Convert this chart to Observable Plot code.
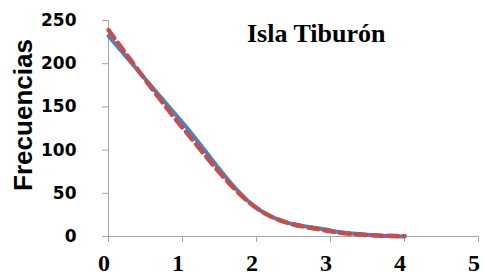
<!DOCTYPE html>
<html>
<head>
<meta charset="utf-8">
<script src="https://cdn.jsdelivr.net/npm/d3@7"></script>
<script src="https://cdn.jsdelivr.net/npm/@observablehq/plot@0.6"></script>
<style>
  html, body { margin: 0; padding: 0; background: #fff; }
  #chart { width: 485px; height: 278px; }
</style>
</head>
<body>
<div id="chart"></div>
<script>
const title = "Isla Tiburón";
const yLabel = "Frecuencias";
const xValues = [0, 1, 2, 3, 4];
const observed = [232, 132, 33, 7, 0];
const expected = [239, 126, 33, 6, 0.5];
const xTicks = [0, 1, 2, 3, 4, 5];
const yTicks = [0, 50, 100, 150, 200, 250];

const obsData = xValues.map((x, i) => ({x, y: observed[i]}));
const expData = xValues.map((x, i) => ({x, y: expected[i]}));

const axisColor = "#a6a6a6";

const chart = Plot.plot({
  width: 485,
  height: 278,
  marginLeft: 108,
  marginRight: 7,
  marginTop: 20,
  marginBottom: 42,
  style: {background: "#fff"},
  x: {domain: [0, 5]},
  y: {domain: [0, 250]},
  marks: [
    Plot.ruleX([0], {y1: 0, y2: 250, stroke: axisColor, strokeWidth: 1}),
    Plot.ruleY([0], {x1: 0, x2: 5, stroke: axisColor, strokeWidth: 1}),
    Plot.axisY({
      ticks: yTicks, tickSize: 6, tickPadding: 26, label: null,
      stroke: axisColor, fill: "#000",
      fontFamily: "DejaVu Sans", fontWeight: "bold", fontSize: 17,
      tickFormat: d => String(d)
    }),
    Plot.axisX({
      ticks: xTicks, tickSize: 6, label: null,
      stroke: axisColor, tickFormat: () => ""
    }),
    Plot.axisX({
      ticks: xTicks, tickSize: 0, tickPadding: 17, label: null, dx: -4.5,
      fill: "#000",
      fontFamily: "Liberation Serif", fontWeight: "bold", fontSize: 24,
      tickFormat: d => String(d)
    }),
    Plot.line(obsData, {x: "x", y: "y", stroke: "#4f81bd", strokeWidth: 4, curve: "cardinal"}),
    Plot.line(expData, {x: "x", y: "y", stroke: "#c0504d", strokeWidth: 4.5, strokeDasharray: "10,6", curve: "cardinal"})
  ]
});

const svg = d3.select(chart);
svg.append("text")
  .attr("x", 247).attr("y", 42)
  .attr("text-anchor", "start")
  .attr("font-family", "Liberation Serif")
  .attr("font-weight", "bold")
  .attr("font-size", 26)
  .attr("fill", "#000")
  .text(title);
svg.append("text")
  .attr("transform", "translate(32,115) rotate(-90)")
  .attr("text-anchor", "middle")
  .attr("font-family", "Liberation Sans")
  .attr("font-weight", "bold")
  .attr("font-size", 26)
  .attr("fill", "#000")
  .text(yLabel);

document.getElementById("chart").appendChild(chart);
</script>
</body>
</html>
